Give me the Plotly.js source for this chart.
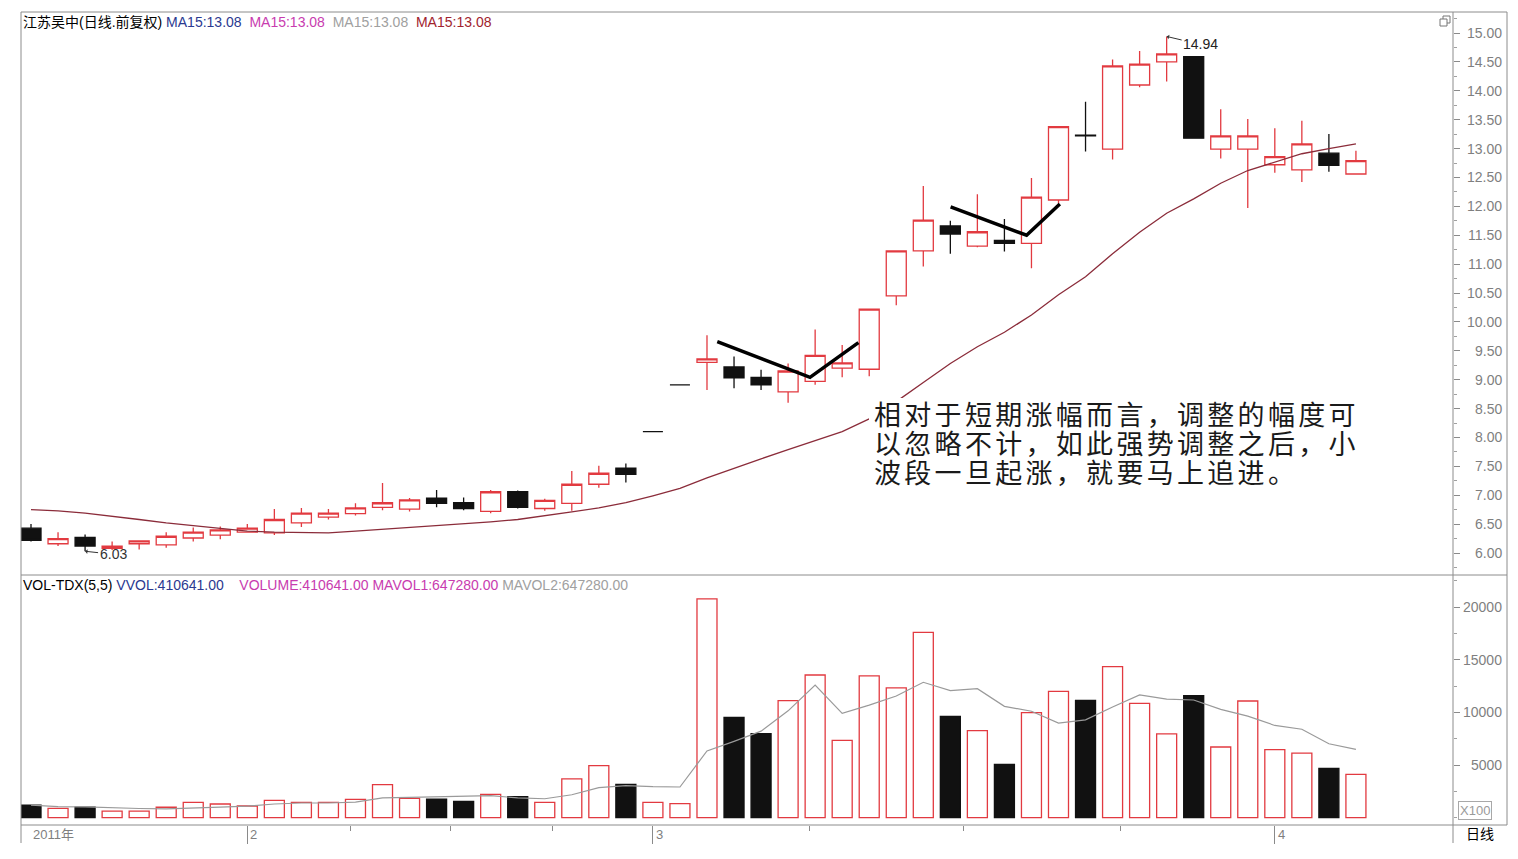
<!DOCTYPE html>
<html><head><meta charset="utf-8">
<script src="https://cdn.plot.ly/plotly-3.0.1.min.js"></script>
<style>html,body{margin:0;padding:0;background:#fff;}#chart{width:1518px;height:859px;}</style>
</head><body><div id="chart"></div>
<script>
// ---- data (daily bars, index 0..49) ----
const openP  = [6.43,6.16,6.27,6.08,6.16,6.14,6.26,6.31,6.36,6.35,6.52,6.62,6.68,6.79,6.76,6.95,6.87,6.72,7.06,6.77,6.86,7.19,7.47,8.10,8.91,9.30,9.22,9.04,8.79,8.97,9.20,9.18,10.45,11.23,11.66,11.31,11.41,11.36,12.11,13.23,12.99,14.10,14.50,14.59,12.99,12.99,12.72,12.63,12.92,12.56];
const highP  = [6.50,6.36,6.32,6.20,6.22,6.36,6.44,6.46,6.50,6.76,6.78,6.76,6.86,7.21,6.95,7.09,6.96,7.09,7.08,6.94,7.42,7.51,7.55,8.10,8.91,9.77,9.40,9.17,9.28,9.87,9.60,10.22,11.24,12.35,11.75,12.21,11.78,12.49,13.38,13.81,14.54,14.69,14.94,14.60,13.68,13.51,13.35,13.48,13.25,12.96];
const lowP   = [6.20,6.12,6.03,6.05,6.06,6.09,6.20,6.24,6.35,6.31,6.45,6.58,6.65,6.74,6.72,6.79,6.74,6.69,6.77,6.73,6.73,7.13,7.22,8.10,8.91,8.82,8.85,8.82,8.60,8.91,9.04,9.06,10.29,10.96,11.18,11.29,11.22,10.93,12.05,12.95,12.81,14.06,14.16,13.17,12.83,11.97,12.58,12.42,12.60,12.56];
const closeP = [6.22,6.25,6.12,6.12,6.21,6.29,6.36,6.40,6.43,6.58,6.69,6.69,6.78,6.87,6.92,6.86,6.77,7.06,6.79,6.91,7.19,7.38,7.36,8.10,8.91,9.36,9.03,8.91,9.15,9.42,9.29,10.22,11.23,11.76,11.52,11.56,11.36,12.16,13.38,13.22,14.43,14.46,14.64,13.18,13.22,13.22,12.86,13.08,12.71,12.79];
const ma15   = [6.75,6.73,6.69,6.64,6.58,6.52,6.47,6.42,6.38,6.36,6.35,6.35,6.38,6.41,6.44,6.47,6.50,6.54,6.58,6.64,6.71,6.78,6.87,6.99,7.12,7.30,7.47,7.63,7.79,7.95,8.10,8.32,8.62,8.95,9.28,9.57,9.82,10.12,10.47,10.78,11.18,11.55,11.88,12.13,12.40,12.62,12.77,12.91,13.00,13.08];
const volume = [1200,890,1010,630,630,990,1460,1300,1110,1650,1460,1460,1740,3140,1840,1770,1550,2220,2000,1460,3680,4940,3170,1460,1330,20770,9530,7980,11110,13550,7350,13460,12320,17600,9620,8260,5070,9970,12000,11140,14340,10860,7950,11590,6710,11080,6460,6140,4690,4106];

// hand-drawn V marks (index, price)
const vLine1X = [25.38, 28.81, 30.60], vLine1Y = [9.66, 9.04, 9.64];
const vLine2X = [34.01, 36.82, 38.05], vLine2Y = [11.99, 11.50, 12.04];

// axis ticks / labels
const priceTicks = [6.0,6.5,7.0,7.5,8.0,8.5,9.0,9.5,10.0,10.5,11.0,11.5,12.0,12.5,13.0,13.5,14.0,14.5,15.0];
const priceTickText = ['6.00','6.50','7.00','7.50','8.00','8.50','9.00','9.50','10.00','10.50','11.00','11.50','12.00','12.50','13.00','13.50','14.00','14.50','15.00'];
const volTicks = [5000,10000,15000,20000];
const volTickText = ['5000','10000','15000','20000'];
const monthTickIdx = [8, 23, 46];
const monthLabels = ['2','3','4'];
const firstLabel = '2011年';
const weekTickIdx = [11.8, 15.5, 19.3, 28.8, 34.5, 40.3];
const noteLines = ['相对于短期涨幅而言，调整的幅度可','以忽略不计，如此强势调整之后，小','波段一旦起涨，就要马上追进。'];

// ---- build ----
const idx = openP.map((_, i) => i);
const upC = idx.filter(i => closeP[i] > openP[i]);
const dnC = idx.filter(i => closeP[i] <= openP[i]);
const upV = idx.filter(i => closeP[i] >= openP[i]);
const dnV = idx.filter(i => closeP[i] < openP[i]);
const pick = (arr, ids) => ids.map(i => arr[i]);
const maVol = volume.map((_, i) => { const s = volume.slice(Math.max(0, i - 4), i + 1); return s.reduce((a, b) => a + b, 0) / s.length; });

const RED = '#e23a40', BLK = '#111111', GRAY = '#8a8a8a';
function candle(ids, color, fill) {
  const st = {line: {color: color, width: 1.3}, fillcolor: fill};
  return {type: 'candlestick', x: ids, open: pick(openP, ids), high: pick(highP, ids), low: pick(lowP, ids), close: pick(closeP, ids),
    xaxis: 'x', yaxis: 'y', increasing: st, decreasing: st, whiskerwidth: 0, hoverinfo: 'skip', showlegend: false};
}
function vbar(ids, color, fill) {
  return {type: 'bar', x: ids, y: pick(volume, ids), xaxis: 'x', yaxis: 'y2', width: 0.74,
    marker: {color: fill, line: {color: color, width: 1.3}}, hoverinfo: 'skip', showlegend: false};
}
const traces = [
  vbar(upV, RED, '#ffffff'),
  vbar(dnV, BLK, BLK),
  {type: 'scatter', mode: 'lines', x: idx, y: maVol, xaxis: 'x', yaxis: 'y2', line: {color: '#9a9a9a', width: 1.2}, hoverinfo: 'skip'},
  candle(upC, RED, '#ffffff'),
  candle(dnC, BLK, BLK),
  {type: 'scatter', mode: 'lines', x: idx, y: ma15, xaxis: 'x', yaxis: 'y', line: {color: '#8b2c3a', width: 1.3}, hoverinfo: 'skip'},
  {type: 'scatter', mode: 'lines', x: vLine1X, y: vLine1Y, xaxis: 'x', yaxis: 'y', line: {color: '#000', width: 3.5}, hoverinfo: 'skip'},
  {type: 'scatter', mode: 'lines', x: vLine2X, y: vLine2Y, xaxis: 'x', yaxis: 'y', line: {color: '#000', width: 3.5}, hoverinfo: 'skip'}
];

const W = 1486, H = 813, L = 21, T = 12;
const px = x => (x - L) / W;
const py = y => (T + H - y) / H;
const xDom = px(1453);
const volTop = py(575);
const pRange = [5.6193, 15.3634];
const vRange = [-693, 23042];
const tickFont = {family: 'Liberation Sans, Arial, sans-serif', size: 14, color: '#7f7f7f'};
const hdrFont = {family: 'Liberation Sans, Arial, Noto Sans CJK SC, sans-serif', size: 14, color: '#000'};

const annotations = [
  {xref: 'paper', yref: 'paper', x: 0, y: py(22), xanchor: 'left', yanchor: 'middle', showarrow: false, font: hdrFont,
   text: '江苏吴中(日线.前复权)&nbsp;<span style="color:#2b3990">MA15:13.08</span>&nbsp;&nbsp;<span style="color:#c83caf">MA15:13.08</span>&nbsp;&nbsp;<span style="color:#a0a0a0">MA15:13.08</span>&nbsp;&nbsp;<span style="color:#a1232e">MA15:13.08</span>'},
  {xref: 'paper', yref: 'paper', x: 0, y: py(585), xanchor: 'left', yanchor: 'middle', showarrow: false, font: hdrFont,
   text: 'VOL-TDX(5,5)&nbsp;<span style="color:#2b3990">VVOL:410641.00</span>&nbsp;&nbsp;&nbsp;&nbsp;<span style="color:#c83caf">VOLUME:410641.00</span>&nbsp;<span style="color:#c83caf">MAVOL1:647280.00</span>&nbsp;<span style="color:#a0a0a0">MAVOL2:647280.00</span>'},
  {xref: 'x', yref: 'y', x: 42, y: 14.94, ax: 34, ay: 8, text: '14.94', showarrow: true, arrowhead: 1, arrowsize: 0.8, arrowwidth: 1, arrowcolor: '#333',
   font: {family: 'Liberation Sans, Arial', size: 14, color: '#222'}},
  {xref: 'x', yref: 'y', x: 2, y: 6.03, ax: 28, ay: 3, text: '6.03', showarrow: true, arrowhead: 1, arrowsize: 0.8, arrowwidth: 1, arrowcolor: '#333',
   font: {family: 'Liberation Sans Narrow, Liberation Sans, Arial', size: 14, color: '#333'}},
  {xref: 'x', yref: 'paper', x: 0, y: py(834), xanchor: 'left', yanchor: 'middle', showarrow: false, text: firstLabel,
   font: {family: 'Liberation Sans, Noto Sans CJK SC', size: 13, color: '#7f7f7f'}},
  {xref: 'paper', yref: 'paper', x: px(1475), y: py(810.5), xanchor: 'center', yanchor: 'middle', showarrow: false, text: 'X100',
   font: {family: 'Liberation Sans, Arial', size: 13, color: '#9a9a9a'}, bordercolor: '#a8a8a8', borderwidth: 1, borderpad: 1, bgcolor: '#fff'},
  {xref: 'paper', yref: 'paper', x: px(1480), y: py(833), xanchor: 'center', yanchor: 'middle', showarrow: false, text: '日线',
   font: {family: 'Noto Sans CJK SC', size: 14, color: '#000'}}
];
monthTickIdx.forEach((m, k) => annotations.push({xref: 'x', yref: 'paper', x: m, y: py(834), xanchor: 'left', yanchor: 'middle', xshift: 1, showarrow: false,
  text: monthLabels[k], font: {family: 'Liberation Sans, Arial', size: 13, color: '#7f7f7f'}}));
priceTicks.forEach((v, k) => annotations.push({xref: 'paper', yref: 'y', x: px(1504), y: v, xanchor: 'right', yanchor: 'middle', showarrow: false,
  text: priceTickText[k], font: tickFont}));
volTicks.forEach((v, k) => annotations.push({xref: 'paper', yref: 'y2', x: px(1504), y: v, xanchor: 'right', yanchor: 'middle', showarrow: false,
  text: volTickText[k], font: tickFont}));
// one multi-line note: base size sets ~29px line pitch, glyphs drawn at 27px with letter spacing
annotations.push({xref: 'paper', yref: 'paper', x: px(872), y: py(443), xanchor: 'left', yanchor: 'middle', align: 'left', showarrow: false,
  text: noteLines.map(t => '<span style="font-size:27px;letter-spacing:3.3px">' + t + '</span>').join('<br>'),
  font: {family: 'Noto Sans CJK SC', size: 22.3, color: '#1a1a1a'}});

const frame = {color: '#8c8c8c', width: 1};
const shapes = [
  {type: 'rect', xref: 'paper', yref: 'paper', x0: px(869), x1: px(1362), y0: py(489), y1: py(398), line: {width: 0}, fillcolor: '#ffffff', layer: 'above'},
  {type: 'rect', xref: 'paper', yref: 'paper', x0: 0, x1: 1, y0: 0, y1: 1, line: frame},
  {type: 'line', xref: 'paper', yref: 'paper', x0: xDom, x1: xDom, y0: py(843), y1: 1, line: frame},
  {type: 'line', xref: 'paper', yref: 'paper', x0: 0, x1: 0, y0: py(843), y1: 0, line: frame},
  {type: 'line', xref: 'paper', yref: 'paper', x0: 0, x1: 1, y0: volTop, y1: volTop, line: frame},
  {type: 'rect', xref: 'paper', yref: 'paper', x0: px(1443), x1: px(1450), y0: py(23), y1: py(16), line: {color: '#777', width: 1}},
  {type: 'rect', xref: 'paper', yref: 'paper', x0: px(1440), x1: px(1447), y0: py(26), y1: py(19), line: {color: '#777', width: 1}, fillcolor: '#fff'}
];

const layout = {
  width: 1518, height: 859, margin: {l: L, r: 1518 - L - W, t: T, b: 859 - T - H},
  paper_bgcolor: '#fff', plot_bgcolor: '#fff', showlegend: false, hovermode: false,
  barmode: 'overlay', boxgap: 0.26, boxgroupgap: 0,
  xaxis: {domain: [0, xDom], range: [-0.37, 52.59], anchor: 'y2', showgrid: false, zeroline: false, showline: false,
    tickmode: 'array', tickvals: monthTickIdx, ticktext: monthLabels, showticklabels: false,
    ticks: 'outside', ticklen: 18, tickwidth: 1, tickcolor: GRAY,
    minor: {tickvals: weekTickIdx, ticks: 'outside', ticklen: 5, tickwidth: 1, tickcolor: GRAY, showgrid: false},
    rangeslider: {visible: false}, fixedrange: true},
  yaxis: {domain: [volTop, 1], range: pRange, anchor: 'x', side: 'right', showgrid: false, zeroline: false, showline: false,
    tickmode: 'array', tickvals: priceTicks, showticklabels: false, ticks: 'outside', ticklen: 6, tickwidth: 1, tickcolor: GRAY,
    minor: {dtick: 0.25, tick0: 0, ticks: 'outside', ticklen: 3, tickcolor: '#a0a0a0', showgrid: false}, fixedrange: true},
  yaxis2: {domain: [0, volTop], range: vRange, anchor: 'x', side: 'right', showgrid: false, zeroline: false, showline: false,
    tickmode: 'array', tickvals: volTicks, showticklabels: false, ticks: 'outside', ticklen: 6, tickwidth: 1, tickcolor: GRAY,
    minor: {dtick: 2500, tick0: 0, ticks: 'outside', ticklen: 3, tickcolor: '#a0a0a0', showgrid: false}, fixedrange: true},
  annotations: annotations,
  shapes: shapes
};
Plotly.newPlot('chart', traces, layout, {staticPlot: true, displayModeBar: false});
</script>
</body></html>
